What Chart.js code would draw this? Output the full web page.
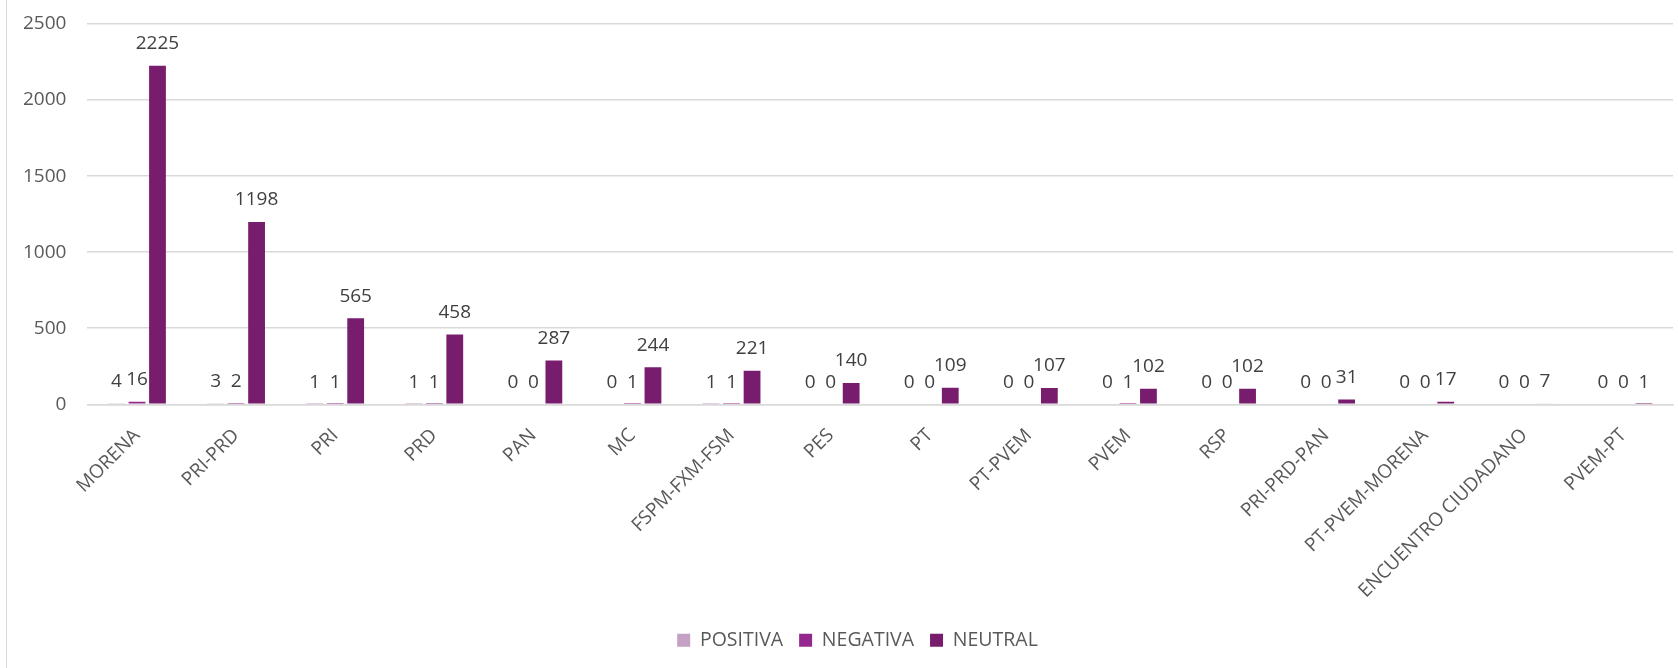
<!DOCTYPE html>
<html>
<head>
<meta charset="utf-8">
<script src="https://cdn.jsdelivr.net/npm/chart.js@4.4.1/dist/chart.umd.min.js"></script>
<style>
    html, body { margin: 0; padding: 0; background: #fff; }
    #wrap { position: relative; width: 1678px; height: 668px; }
    #wrap::before { content: ''; position: absolute; left: 6px; top: 0; bottom: 0; border-left: 1px solid #d9d9d9; }
</style>
</head>
<body>
<div id="wrap"><canvas id="chart" width="1678" height="668"></canvas></div>
<script>
    'use strict';

    const categories = ['MORENA', 'PRI-PRD', 'PRI', 'PRD', 'PAN', 'MC', 'FSPM-FXM-FSM', 'PES', 'PT', 'PT-PVEM',
        'PVEM', 'RSP', 'PRI-PRD-PAN', 'PT-PVEM-MORENA', 'ENCUENTRO CIUDADANO', 'PVEM-PT'];
    const positiva = [4, 3, 1, 1, 0, 0, 1, 0, 0, 0, 0, 0, 0, 0, 0, 0];
    const negativa = [16, 2, 1, 1, 0, 1, 1, 0, 0, 0, 1, 0, 0, 0, 0, 0];
    const neutral = [2225, 1198, 565, 458, 287, 244, 221, 140, 109, 107, 102, 102, 31, 17, 7, 1];
    const yTicks = [0, 500, 1000, 1500, 2000, 2500];

    const FONT = "'Open Sans', 'Noto Sans', sans-serif";
    const textColor = '#404040';
    const labelColor = '#595959';

    // the ENCUENTRO CIUDADANO column is drawn in a pale tint in the original
    const neutralColors = categories.map(c => c === 'ENCUENTRO CIUDADANO' ? '#e3c6e3' : '#781c6e');

    // value labels above every bar, Excel style
    const valueLabels = {
        id: 'valueLabels',
        afterDatasetsDraw(chart) {
            const ctx = chart.ctx;
            ctx.save();
            ctx.font = '19px ' + FONT;
            ctx.fillStyle = textColor;
            ctx.textAlign = 'center';
            ctx.textBaseline = 'middle';
            chart.data.datasets.forEach(function (ds, i) {
                chart.getDatasetMeta(i).data.forEach(function (bar, j) {
                    ctx.fillText(String(ds.data[j]), bar.x, bar.y - 22);
                });
            });
            ctx.restore();
        }
    };

    // Excel centres the legend a bit right of the canvas middle
    const legendShift = {
        id: 'legendShift',
        afterLayout(chart) {
            if (!chart.legend) return;
            chart.legend.left += 20;
            chart.legend.right += 20;
        }
    };

    // scales ask for extra edge room; margins are set by layout.padding instead
    const noEdgePadding = axis => {
        axis.paddingTop = 0; axis.paddingBottom = 0;
        axis.paddingLeft = 0; axis.paddingRight = 0;
    };

    new Chart(document.getElementById('chart'), {
        type: 'bar',
        data: {
            labels: categories,
            datasets: [
                { label: 'POSITIVA', data: positiva, backgroundColor: '#c4a0c4' },
                { label: 'NEGATIVA', data: negativa, backgroundColor: '#94288f' },
                { label: 'NEUTRAL', data: neutral, backgroundColor: neutralColors }
            ]
        },
        options: {
            responsive: false,
            devicePixelRatio: 1,
            animation: false,
            datasets: { bar: { categoryPercentage: 0.62, barPercentage: 0.82 } },
            layout: { padding: { top: 24, right: 5, bottom: 8, left: 2 } },
            plugins: {
                tooltip: { enabled: false },
                legend: {
                    position: 'bottom',
                    labels: {
                        boxWidth: 13, boxHeight: 13, padding: 16,
                        color: labelColor, font: { family: FONT, size: 19.5 },
                        generateLabels(chart) {
                            return chart.data.datasets.map((ds, i) => ({
                                text: ds.label,
                                fillStyle: i === 2 ? '#781c6e' : ds.backgroundColor,
                                strokeStyle: 'transparent', lineWidth: 0,
                                fontColor: labelColor, datasetIndex: i
                            }));
                        }
                    }
                }
            },
            scales: {
                x: {
                    grid: { display: false },
                    border: { display: true, color: '#d9d9d9', width: 1.5 },
                    ticks: { minRotation: 45, maxRotation: 45, padding: 12, autoSkip: false,
                        color: labelColor, font: { family: FONT, size: 19 } },
                    afterFit: noEdgePadding
                },
                y: {
                    min: 0, max: 2500,
                    afterBuildTicks(axis) { axis.ticks = yTicks.map(v => ({ value: v })); },
                    grid: { color: '#d9d9d9', lineWidth: 1.5, drawTicks: false },
                    border: { display: false },
                    ticks: { padding: 21, color: labelColor, font: { family: FONT, size: 19 },
                        callback: v => String(v) },
                    afterFit: noEdgePadding
                }
            }
        },
        plugins: [valueLabels, legendShift]
    });
</script>
</body>
</html>
